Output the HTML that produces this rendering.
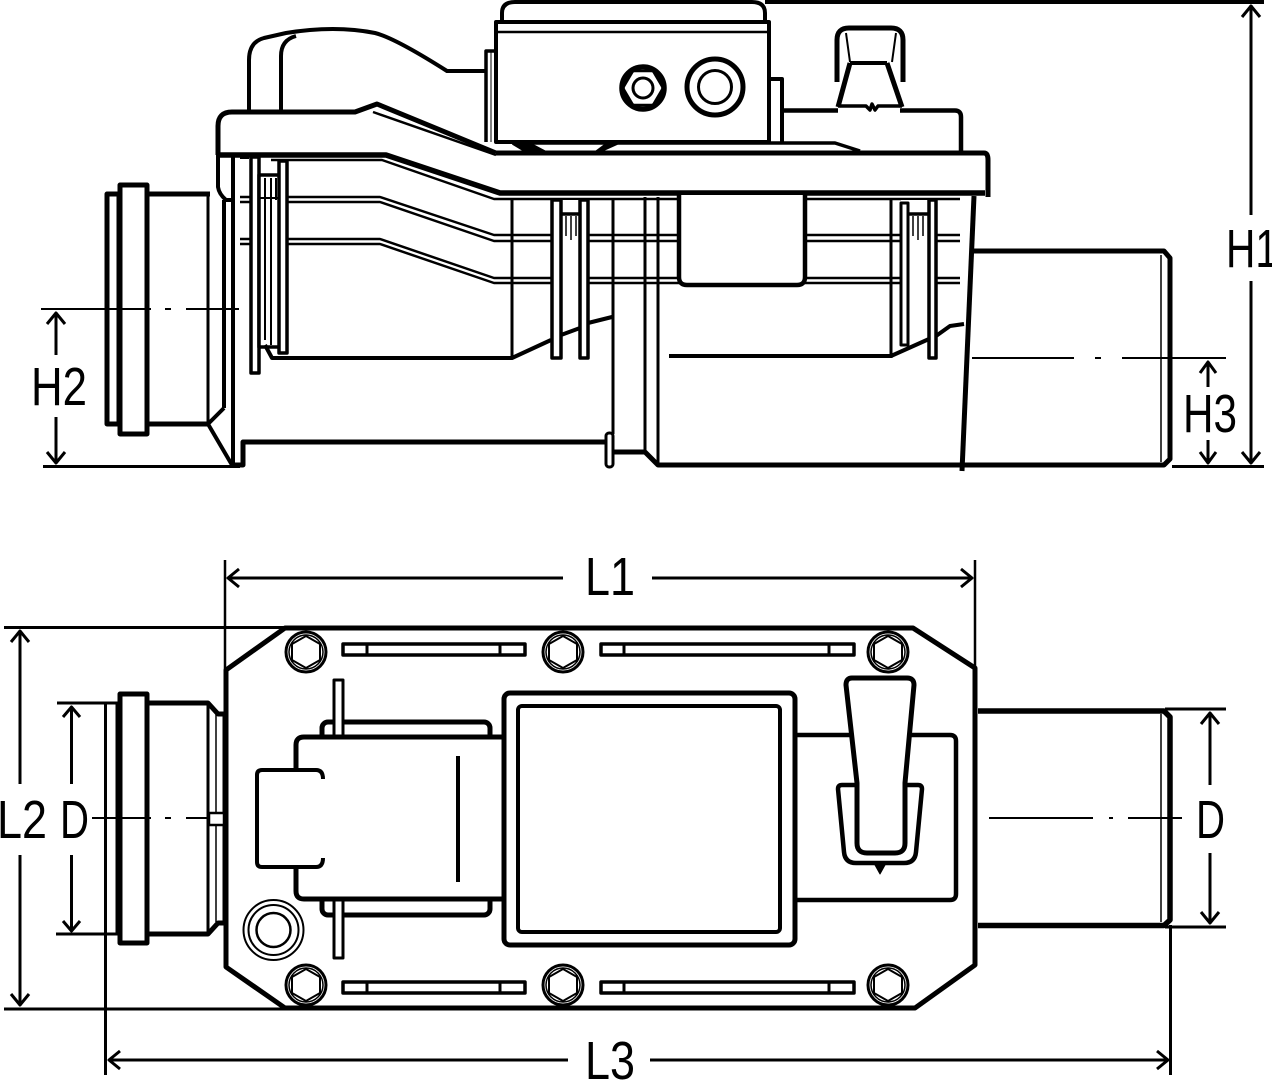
<!DOCTYPE html>
<html><head><meta charset="utf-8"><style>
html,body{margin:0;padding:0;background:#fff}
svg{display:block}
text{font-family:"Liberation Sans",sans-serif;font-size:54px;fill:#000}
</style></head><body>
<svg width="1272" height="1080" viewBox="0 0 1272 1080" xmlns="http://www.w3.org/2000/svg" fill="none" stroke="#000" stroke-linejoin="round">
<rect width="1272" height="1080" fill="#fff" stroke="none"/>

<!-- TOP VIEW -->
<g stroke-width="4">
<!-- hood -->
<path d="M249 112V60Q249 42 264 38L286 33Q335 25 375 33Q395 38 447 71H486" stroke-width="4"/>
<path d="M281 112V56Q281 40 296 36"/>
<!-- box -->
<path d="M486 142V51H496" stroke-width="3.5"/>
<path d="M491 51V142" stroke-width="1"/>
<rect x="496" y="22" width="273" height="120" fill="#fff"/>
<path d="M497 32H767" stroke-width="2.5"/>
<path d="M502 22V13Q502 2 515 2H752Q765 2 765 13V22" stroke-width="4"/>
<path d="M769 79H782V142" stroke-width="4"/>
<circle cx="643" cy="88" r="21" stroke-width="5.5"/>
<polygon points="663,88 653,71 633,71 623,88 633,105 653,105" stroke-width="2.500"/>
<circle cx="643" cy="88" r="10" stroke-width="3"/>
<circle cx="715" cy="87" r="28" stroke-width="5"/>
<circle cx="715" cy="87" r="16.500" stroke-width="3"/>
<!-- right plate upper -->
<path d="M782 110.500H838M900 110.500H955Q961 110.500 961 117V152" stroke-width="4.500"/>
<!-- knob -->
<path d="M837 82V40Q837 28 849 28H891Q903 28 903 40V82" stroke-width="5"/>
<path d="M846 33L850 62M896 33L892 62" stroke-width="2"/>
<path d="M850 63H887" stroke-width="4"/>
<path d="M850 63L838 107M887 63L902 107" stroke-width="5"/>
<path d="M838 106H866L870 110L872 104L875 110L878 106H902" stroke-width="3.500"/>
<!-- flange -->
<path d="M218 155V126Q218 112 232 112H355L377 104L496 153" stroke-width="5"/>
<path d="M373 112L496 155" stroke-width="2.500"/>
<path d="M218 155H386L500 193H985" stroke-width="5.500" fill="none"/>
<path d="M496 153H984Q988 153 988 160V197" stroke-width="5"/>
<path d="M520 143H835L860 151" stroke-width="3.500"/>
<path d="M513 144L528 153H548L531 144ZM597 153L617 144H606L594 153Z" fill="#000" stroke-width="2"/>
<path d="M218 155V187Q219 194 226 200H234" stroke-width="4"/>
<path d="M240 158H249" stroke-width="2"/>
<path d="M271 160H382L494 199H960" stroke-width="2.500"/>
<!-- ribs -->
<path d="M240 197H380L494 235H960M240 202H380L494 241H960" stroke-width="2.500"/>
<path d="M240 239H380L494 278H960M240 244H380L494 283H960" stroke-width="2.500"/>
<!-- left ring -->
<rect x="107" y="194" width="12" height="230" stroke-width="5" fill="#fff"/>
<rect x="120" y="185" width="27" height="249" stroke-width="5" fill="#fff"/>
<path d="M148 194H210M148 424H208" stroke-width="5"/>
<path d="M208 196V424" stroke-width="3"/>
<path d="M224 200V408M233 156V465" stroke-width="4"/>
<path d="M208 424L224 408M208 424L232 465" stroke-width="4"/>
<!-- base line -->
<path d="M233 465H243V442H605" stroke-width="5"/>
<path d="M43 466.500H240" stroke-width="3"/>
<!-- white under clips -->
<rect x="250" y="162" width="38" height="190" fill="#fff" stroke="none"/>
<rect x="552" y="200" width="36" height="158" fill="#fff" stroke="none"/>
<rect x="901" y="200" width="35" height="158" fill="#fff" stroke="none"/>
<!-- clip 1 -->
<rect x="251" y="157" width="8" height="216" stroke-width="3.500" fill="#fff"/>
<rect x="259" y="175" width="21" height="172" stroke-width="3.500" fill="#fff"/>
<rect x="279" y="161" width="8" height="192" stroke-width="3.500" fill="#fff"/>
<path d="M265 178V340M271 178V345M276 178V200M259 198H280" stroke-width="2"/>
<path d="M265 345L272 358H512L551 340M561 335L580 328M588 323L612 317" stroke-width="4"/>
<path d="M512 199V358" stroke-width="3"/>
<!-- clip 2 -->
<rect x="552" y="200" width="9" height="158" stroke-width="3.500" fill="#fff"/>
<rect x="580" y="200" width="8" height="158" stroke-width="3.500" fill="#fff"/>
<path d="M561 214H580" stroke-width="3.500"/>
<path d="M566 216V236M571 216V240M576 216V236" stroke-width="1.500"/>
<path d="M613 199V434" stroke-width="3"/>
<path d="M645 197V452M658 197V465" stroke-width="3"/>
<!-- block -->
<path d="M679 195V277Q679 285 687 285H797Q805 285 805 277V195" stroke-width="4.500" fill="#fff"/>
<!-- right section -->
<path d="M891 200V358" stroke-width="3"/>
<rect x="901" y="203" width="7" height="142" stroke-width="3" fill="#fff"/>
<rect x="929" y="200" width="7" height="158" stroke-width="3.500" fill="#fff"/>
<path d="M908 214H929" stroke-width="3.500"/>
<path d="M913 216V236M918 216V240M923 216V236" stroke-width="1.500"/>
<path d="M669 356H891L929 339M936 336L950 326L964 324" stroke-width="4"/>
<!-- right pipe -->
<path d="M973 251H1164L1170 258V459L1164 465H658L645 452H613" stroke-width="5"/>
<path d="M1161 255V462" stroke-width="1.500"/>
<path d="M974 196L962 471" stroke-width="5"/>
<!-- pin -->
<rect x="606" y="433" width="7" height="34" rx="3" fill="#fff" stroke-width="3"/>
<!-- centerlines -->
<path d="M41 309H151M165 309H171M186 309H239" stroke-width="2"/>
<path d="M972 358H1074M1095 358H1101M1122 358H1226" stroke-width="2"/>
<path d="M765 1.500H1264" stroke-width="5"/>
<path d="M1172 466.500H1264" stroke-width="3"/>
</g>

<!-- BOTTOM VIEW -->
<g stroke-width="4">
<path d="M225 560V670M975 560V670" stroke-width="2.500"/>
<path d="M4 627.500H290M4 1009H290" stroke-width="3"/>
<path d="M226 670L285 628H913L975 668V965L915 1008H285L226 967Z" stroke-width="5" fill="#fff"/>
<!-- left pipe -->
<path d="M57 703H118M56 934H118" stroke-width="3"/>
<path d="M105.500 703V1075" stroke-width="3"/>
<path d="M118 703V934" stroke-width="5"/>
<rect x="120" y="694" width="27" height="249" stroke-width="5" fill="#fff"/>
<path d="M148 703H208L218 714H226M148 934H208L218 923H226" stroke-width="5"/>
<path d="M208 704V932" stroke-width="3"/>
<path d="M216 714V922" stroke-width="1.500"/>
<path d="M224 714V922" stroke-width="3"/>
<rect x="209" y="813" width="15" height="12" stroke-width="2.500" fill="#fff"/>
<path d="M92 818H151M165 818H171M186 818H208" stroke-width="2"/>
<!-- slots -->
<g stroke-width="3.500" fill="#fff">
<rect x="343" y="644" width="182" height="11"/>
<rect x="601" y="644" width="253" height="11"/>
<rect x="343" y="982" width="182" height="11"/>
<rect x="601" y="982" width="253" height="11"/>
</g>
<path d="M367 644V655M500 644V655M624 644V655M829 644V655M367 982V993M500 982V993M624 982V993M829 982V993" stroke-width="3"/>
<!-- bolts -->
<g><circle cx="306" cy="652" r="20" stroke-width="3"/><circle cx="306" cy="652" r="17" stroke-width="1.500"/><polygon points="306,636 320,644 320,660 306,668 292,660 292,644" stroke-width="2"/></g>
<g><circle cx="563" cy="652" r="20" stroke-width="3"/><circle cx="563" cy="652" r="17" stroke-width="1.500"/><polygon points="563,636 577,644 577,660 563,668 549,660 549,644" stroke-width="2"/></g>
<g><circle cx="888" cy="652" r="20" stroke-width="3"/><circle cx="888" cy="652" r="17" stroke-width="1.500"/><polygon points="888,636 902,644 902,660 888,668 874,660 874,644" stroke-width="2"/></g>
<g><circle cx="306" cy="985" r="20" stroke-width="3"/><circle cx="306" cy="985" r="17" stroke-width="1.500"/><polygon points="306,969 320,977 320,993 306,1001 292,993 292,977" stroke-width="2"/></g>
<g><circle cx="563" cy="985" r="20" stroke-width="3"/><circle cx="563" cy="985" r="17" stroke-width="1.500"/><polygon points="563,969 577,977 577,993 563,1001 549,993 549,977" stroke-width="2"/></g>
<g><circle cx="888" cy="985" r="20" stroke-width="3"/><circle cx="888" cy="985" r="17" stroke-width="1.500"/><polygon points="888,969 902,977 902,993 888,1001 874,993 874,977" stroke-width="2"/></g>
<!-- gland -->
<circle cx="273.500" cy="930" r="30" stroke-width="2"/>
<circle cx="273.500" cy="930" r="25" stroke-width="2"/>
<circle cx="273.500" cy="930" r="17" stroke-width="2.500"/>
<!-- left tab -->
<rect x="322" y="722" width="168" height="193" rx="6" stroke-width="5" fill="#fff"/>
<rect x="334" y="680" width="9" height="57" stroke-width="3" fill="#fff"/>
<rect x="334" y="899" width="9" height="59" stroke-width="3" fill="#fff"/>
<rect x="296" y="737" width="208" height="162" fill="#fff" stroke="none"/>
<path d="M504 737H304Q296 737 296 745V770M296 867V891Q296 899 304 899H504" stroke-width="5"/>
<path d="M323 779Q323 770 316 770H262Q257 770 257 775V862Q257 867 262 867H316Q323 867 323 858" stroke-width="4" fill="#fff"/>
<rect x="318" y="772.500" width="8" height="4" fill="#fff" stroke="none" opacity="0"/>
<path d="M458 756V882" stroke-width="4"/>
<!-- right tab -->
<path d="M795 735H950Q956 735 956 741V894Q956 900 950 900H795" stroke-width="4.500"/>
<!-- center box -->
<rect x="504" y="693" width="291" height="252" rx="6" stroke-width="5" fill="#fff"/>
<rect x="518" y="706" width="262" height="226" rx="4" stroke-width="4" fill="#fff"/>
<!-- clip + handle -->
<path d="M857 785H842Q838 785 838 789L844 852Q845 863 856 863H904Q915 863 916 852L922 789Q922 785 918 785H905" stroke-width="4.500" fill="#fff"/>
<path d="M852 678H907Q914 678 914 685L905 783V843Q905 853 895 853H867Q857 853 857 843V783L846 685Q846 678 852 678Z" stroke-width="5" fill="#fff"/>
<path d="M875 865H885L880 874Z" fill="#000" stroke-width="1"/>
<!-- right pipe -->
<path d="M978 711H1164L1170 717V920L1164 925.500H978" stroke-width="5.500" fill="#fff"/>
<path d="M1161 714V922" stroke-width="1.500"/>
<path d="M1165 709H1226M1165 927H1226" stroke-width="3"/>
<path d="M1170.500 925V1075" stroke-width="3"/>
<path d="M989 818H1093M1109 818H1113M1128 818H1182" stroke-width="2"/>
</g>

<!-- DIMENSION ARROWS -->
<g stroke-width="3">
<path d="M56 313V355M56 417V463"/>
<path d="M47 324L56 313L65 324M47 452L56 463L65 452"/>
<path d="M1251 5V215M1251 281V463"/>
<path d="M1242 17L1251 6L1260 17M1242 452L1251 463L1260 452"/>
<path d="M1208 362V387M1208 440V463"/>
<path d="M1200 373L1208 362L1216 373M1200 452L1208 463L1216 452"/>
<path d="M228 578H563M652 578H972"/>
<path d="M239 569L228 578L239 587M961 569L972 578L961 587"/>
<path d="M20 632V784M20 855V1004"/>
<path d="M11 642L20 631L29 642M11 994L20 1005L29 994"/>
<path d="M71.500 707V784M71.500 855V931"/>
<path d="M63 717L71.500 707L80 717M63 921L71.500 931L80 921"/>
<path d="M1210 713V785M1210 853V923"/>
<path d="M1201 724L1210 713L1219 724M1201 912L1210 923L1219 912"/>
<path d="M109 1060H568M650 1060H1168"/>
<path d="M120 1051L109 1060L120 1069M1157 1051L1168 1060L1157 1069"/>
</g>

<g stroke="none">
<text x="1226" y="267" textLength="52" lengthAdjust="spacingAndGlyphs">H1</text>
<text x="31" y="405" textLength="56" lengthAdjust="spacingAndGlyphs">H2</text>
<text x="1183" y="432" textLength="54" lengthAdjust="spacingAndGlyphs">H3</text>
<text x="585" y="595" textLength="50" lengthAdjust="spacingAndGlyphs">L1</text>
<text x="585" y="1079" textLength="50" lengthAdjust="spacingAndGlyphs">L3</text>
<text x="-3" y="838" textLength="50" lengthAdjust="spacingAndGlyphs">L2</text>
<text x="60" y="838" textLength="29" lengthAdjust="spacingAndGlyphs">D</text>
<text x="1196" y="838" textLength="29" lengthAdjust="spacingAndGlyphs">D</text>
</g>
</svg>
</body></html>
